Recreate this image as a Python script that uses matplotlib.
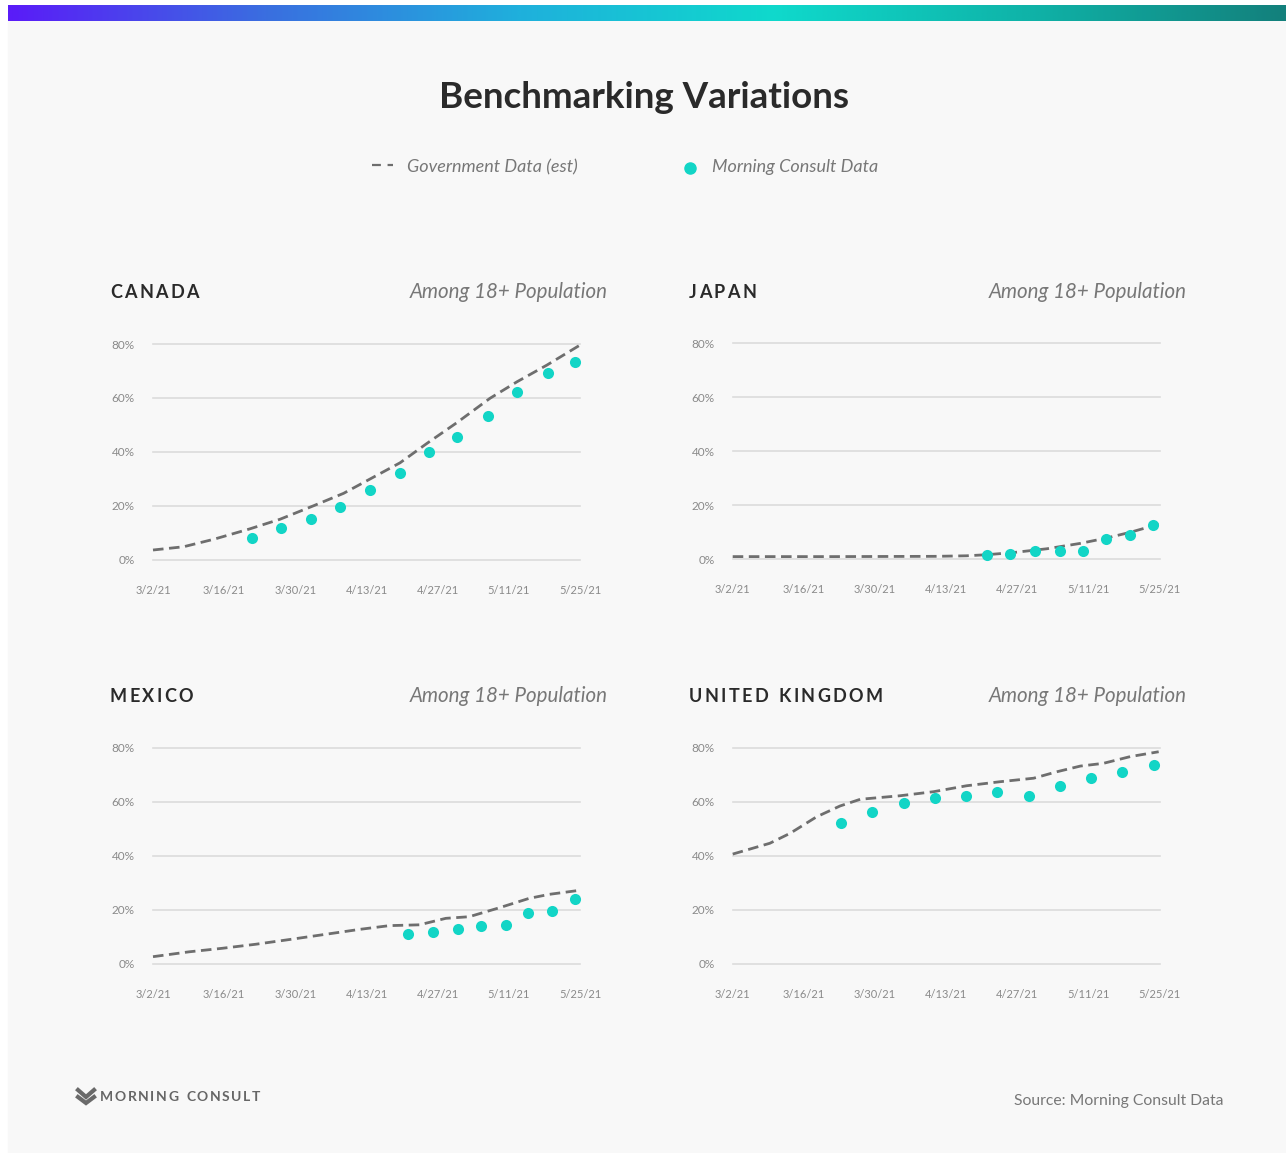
import numpy as np
import matplotlib
matplotlib.use("Agg")
import matplotlib.pyplot as plt
from matplotlib.colors import LinearSegmentedColormap
from matplotlib.lines import Line2D
from matplotlib.patches import Rectangle

# ── data (x = days since 3/2/21, y = % vaccinated) ────────────────────────────
tick_days = [0, 14, 28, 42, 56, 70, 84]
tick_labels = ["3/2/21", "3/16/21", "3/30/21", "4/13/21", "4/27/21", "5/11/21", "5/25/21"]
y_ticks = [0, 20, 40, 60, 80]
y_labels = ["0%", "20%", "40%", "60%", "80%"]

canada_gov_days = [0, 6, 12, 19, 25, 31.6, 37.5, 42.7, 48.6, 53.9, 59.8, 66.3, 71.6, 77.5, 84]
canada_gov_vals = [3.7, 4.9, 7.7, 11.5, 15.1, 20.1, 24.7, 30.0, 36.0, 43.2, 50.9, 59.9, 66.0, 72.2, 79.6]
canada_mc_days = [19.4, 25.2, 31.0, 36.8, 42.6, 48.5, 54.3, 59.8, 65.9, 71.7, 77.7, 83.1]
canada_mc_vals = [8.0, 11.7, 15.3, 19.6, 25.8, 32.3, 40.1, 45.4, 53.4, 62.1, 69.4, 73.2]

japan_gov_days = [0, 20, 40, 46, 50, 55.2, 61.8, 68.4, 73.6, 78.2, 83.8]
japan_gov_vals = [1.0, 1.0, 1.1, 1.3, 1.7, 2.5, 3.9, 5.9, 7.9, 10.0, 13.0]
japan_mc_days = [50.1, 54.6, 59.5, 64.3, 69.0, 73.4, 78.1, 82.7]
japan_mc_vals = [1.5, 2.0, 3.0, 3.0, 3.0, 7.6, 9.1, 12.7]

mexico_gov_days = [0, 7.1, 13.6, 20.2, 27.4, 34, 40.6, 46.5, 52.4, 55, 57.6, 62.2, 68.1, 74, 78, 84]
mexico_gov_vals = [2.6, 4.4, 5.7, 7.2, 9.1, 10.9, 12.7, 14.1, 14.4, 15.6, 16.8, 17.4, 20.7, 24.2, 25.7, 27.2]
mexico_mc_days = [50.1, 55.1, 60.0, 64.6, 69.5, 73.8, 78.5, 83.0]
mexico_mc_vals = [11.1, 11.6, 13.0, 14.0, 14.4, 18.7, 19.6, 23.9]

uk_gov_days = [0, 7.3, 11.3, 16.5, 21.1, 25.1, 32.9, 39.5, 46, 52.6, 59.2, 63.8, 68.4, 72.9, 78.2, 83.8]
uk_gov_vals = [40.6, 44.6, 48.3, 54.4, 58.4, 60.9, 62.2, 63.7, 65.9, 67.4, 68.7, 71.1, 73.2, 74.2, 76.7, 78.5]
uk_mc_days = [21.3, 27.4, 33.6, 39.7, 45.9, 52.0, 58.2, 64.3, 70.5, 76.6, 82.8]
uk_mc_vals = [52.0, 56.2, 59.4, 61.4, 62.2, 63.6, 62.2, 65.9, 68.7, 71.0, 73.7]

panels = [
    ("CANADA", canada_gov_days, canada_gov_vals, canada_mc_days, canada_mc_vals),
    ("JAPAN", japan_gov_days, japan_gov_vals, japan_mc_days, japan_mc_vals),
    ("MEXICO", mexico_gov_days, mexico_gov_vals, mexico_mc_days, mexico_mc_vals),
    ("UNITED KINGDOM", uk_gov_days, uk_gov_vals, uk_mc_days, uk_mc_vals),
]

# ── style ─────────────────────────────────────────────────────────────────────
W, H = 1286, 1153
FONT = "Lato"
DOT = "#12d5c6"
DASH = "#6e6e6e"
GRID = "#dcdcdc"
TICK = "#8a8a8a"
BG = "#f8f8f8"

plt.rcParams["font.family"] = [FONT, "DejaVu Sans"]

fig = plt.figure(figsize=(W / 100, H / 100), dpi=100, facecolor="white")
fig.patches.append(Rectangle((8 / W, 0.5 / H), (W - 8) / W, (H - 21) / H,
                             transform=fig.transFigure, color=BG, zorder=-10))

# gradient bar on top
grad = LinearSegmentedColormap.from_list(
    "mc", ["#5a1cf8", "#3a6ee0", "#1fb0dc", "#0fd9cc", "#0fb3a8", "#13807c"])
gax = fig.add_axes([8 / W, 1 - 21 / H, (W - 8) / W, 16 / H])
gax.imshow(np.linspace(0, 1, 512)[None, :], aspect="auto", cmap=grad)
gax.axis("off")


def px(x, y):
    return x / W, 1 - y / H


def spaced(x, y, s, gap, **kw):
    # draw text letter by letter to get tracking
    r = fig.canvas.get_renderer()
    cx = x
    for ch in s:
        if ch == " ":
            cx += kw.get("fontsize", 12) * 0.45 + gap
            continue
        t = fig.text(*px(cx, y), ch, va="center", ha="left", **kw)
        cx += t.get_window_extent(r).width + gap


fig.text(*px(644, 97), "Benchmarking Variations", ha="center", va="center",
         fontsize=26.5, fontweight="bold", color="#2a2a2a")

# legend
fig.add_artist(Line2D([372 / W, 393 / W], [1 - 165 / H] * 2, color=DASH, lw=1.6,
                      dashes=(4, 3)))
fig.text(*px(407, 167), "Government Data (est)", ha="left", va="center",
         fontsize=13, style="italic", color="#777777")
fig.add_artist(Line2D([690 / W], [1 - 168 / H], marker="o", ms=8, color=DOT, lw=0))
fig.text(*px(712, 167), "Morning Consult Data", ha="left", va="center",
         fontsize=13, style="italic", color="#777777")

lefts = [153, 732.7, 153, 732.7]
zeros = [560, 559.3, 963.7, 963.7]
head_x = [110, 689, 110, 689]
head_y = [292, 292, 696, 696]
sub_x = [608, 1187, 608, 1187]

for i, (name, gd, gv, md, mv) in enumerate(panels):
    ax = fig.add_axes([lefts[i] / W, (H - zeros[i]) / H, 427 / W, 216 / H])
    ax.set_facecolor("none")
    ax.set_xlim(0, 84)
    ax.set_ylim(0, 80)
    for v in y_ticks:
        ax.axhline(v, color=GRID, lw=1.2, zorder=0, clip_on=False)
    ax.plot(gd, gv, color=DASH, lw=2, dashes=(3.8, 2.0), clip_on=False, zorder=2)
    ax.plot(md, mv, "o", color=DOT, ms=8, mec="none", clip_on=False, zorder=3)
    ax.set_xticks(tick_days)
    ax.set_xticklabels(tick_labels)
    ax.set_yticks(y_ticks)
    ax.set_yticklabels(y_labels)
    ax.tick_params(length=0, labelsize=8, labelcolor=TICK)
    ax.tick_params(axis="x", pad=18)
    ax.tick_params(axis="y", labelsize=8.5, pad=13)
    for sp in ax.spines.values():
        sp.set_visible(False)

    spaced(head_x[i], head_y[i], name, 2.3, fontsize=13, fontweight="bold",
           color="#2a2a2a")
    fig.text(*px(sub_x[i], head_y[i]), "Among 18+ Population", ha="right",
             va="center", fontsize=14.8, style="italic", color="#777777")

# footer logo
fig.add_artist(Line2D([78 / W, 86 / W, 94 / W], [1 - 1090 / H, 1 - 1097 / H, 1 - 1090 / H],
                      color="#6a6a6a", lw=3, solid_joinstyle="miter"))
fig.add_artist(Line2D([78 / W, 86 / W, 94 / W], [1 - 1097 / H, 1 - 1103 / H, 1 - 1097 / H],
                      color="#6a6a6a", lw=3, solid_joinstyle="miter"))
spaced(100, 1097, "MORNING CONSULT", 1.6, fontsize=10, fontweight="bold",
       color="#666666")
fig.text(*px(1223, 1101), "Source: Morning Consult Data", ha="right", va="center",
         fontsize=11.3, color="#777777")

fig.savefig("out.png", dpi=100, facecolor=fig.get_facecolor())
